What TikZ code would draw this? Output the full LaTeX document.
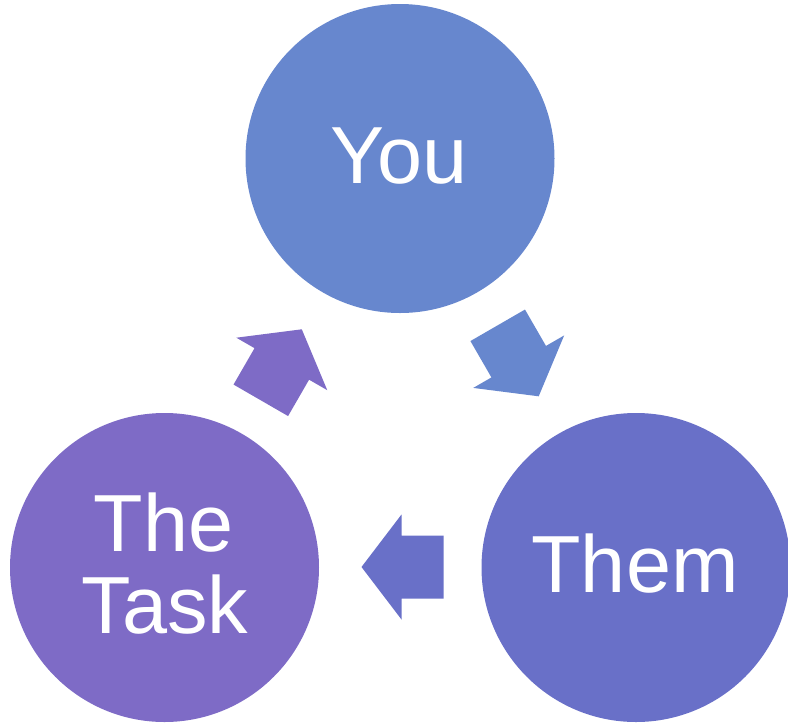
\documentclass[tikz,border=0pt]{standalone}
\usepackage{fontspec}
\setmainfont{Liberation Sans}
\definecolor{youc}{RGB}{103,135,206}
\definecolor{themc}{RGB}{105,112,200}
\definecolor{taskc}{RGB}{126,107,198}
\begin{document}
\begin{tikzpicture}[x=1pt,y=-1pt,
  ball/.style={circle,draw=none,inner sep=0pt,minimum size=309pt},
  lbl/.style={text=white,font=\fontsize{81}{81}\selectfont,anchor=base,inner sep=0pt},
  blockarrow/.pic={\fill (41,0) -- (1,52.5) -- (1,31.5) -- (-41,31.5) -- (-41,-31.5) -- (1,-31.5) -- (1,-52.5) -- cycle;}]
\useasboundingbox (0,0) rectangle (788,724);
\node[ball,fill=youc] (you) at (400,158.5) {};
\node[ball,fill=themc] (them) at (636,567.5) {};
\node[ball,fill=taskc] (task) at (164.5,567.5) {};
\node[lbl] (youtxt) at (399,183) {You};
\node[lbl] (themtxt) at (635,592.5) {Them};
\node[lbl] (thetxt) at (163.5,551.5) {The};
\node[lbl] (tasktxt) at (165,633) {Task};
\pic[fill=taskc,rotate=60] at (281.3,364.8) {blockarrow};
\pic[fill=youc,rotate=-60] at (518.2,360.8) {blockarrow};
\pic[fill=themc,rotate=180] at (402.5,567) {blockarrow};
\end{tikzpicture}
\end{document}
